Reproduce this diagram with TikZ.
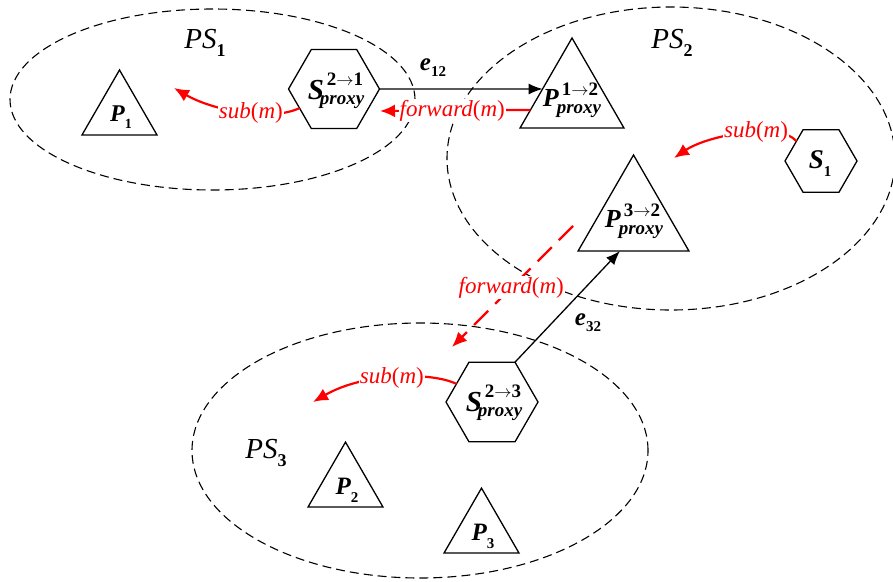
\documentclass[tikz,border=0pt]{standalone}
\usepackage{fontspec}
\setmainfont{Liberation Serif}
\usetikzlibrary{shapes.geometric,arrows.meta}

% bold italic symbol with a lowered bold index:
% #1 symbol size, #2 symbol, #3 index size, #4 index, #5 drop of the index
\newcommand{\symidx}[5]{{\fontsize{#1}{#1}\selectfont\bfseries\itshape #2}\raisebox{-#5}{\fontsize{#3}{#3}\selectfont\bfseries\upshape #4}}
% proxy symbol X^{a->b}_{proxy}:
% #1 symbol size, #2 symbol, #3 from, #4 to, #5 kern of the subscript, #6 raise, #7 drop
\newcommand{\symproxy}[7]{{\fontsize{#1}{#1}\selectfont\bfseries\itshape #2}\kern#5\rlap{\kern-#5\kern3pt\raisebox{#6}{\fontsize{19}{19}\selectfont\bfseries\upshape #3$\rightarrow$#4}}\raisebox{-#7}{\fontsize{19}{19}\selectfont\bfseries\itshape proxy}}
% region name PS_i
\newcommand{\psname}[1]{{\fontsize{29}{29}\selectfont\itshape PS}\raisebox{-8pt}{\fontsize{18}{18}\selectfont\bfseries #1}}
% message text
\newcommand{\msgname}[1]{#1{\upshape(}m{\upshape)}}

\tikzset{
  region/.style={ellipse, draw, line width=1.1pt, dash pattern=on 9pt off 5pt, inner sep=0pt, outer sep=0pt},
  tri/.style={regular polygon, regular polygon sides=3, draw, line width=1.3pt, inner sep=0pt, outer sep=0pt},
  hexa/.style={regular polygon, regular polygon sides=6, draw, line width=1.3pt, inner sep=0pt, outer sep=0pt},
  symtxt/.style={inner sep=0pt},
  link/.style={line width=1.3pt, -{Latex[length=14pt,width=11pt]}},
  msg/.style={red, line width=2.2pt, -{Latex[length=15pt,width=13pt]}},
  msgtxt/.style={fill=white, text=red, inner sep=1pt, font=\fontsize{23}{27}\selectfont\itshape},
}

\begin{document}
\begin{tikzpicture}[x=1pt,y=-1pt]
  \useasboundingbox (0,0) rectangle (893,581);

  % publish/subscribe regions
  \node[region, minimum width=405pt, minimum height=181pt] (ps1) at (212.5,99.5) {};
  \node[region, minimum width=448pt, minimum height=303pt] (ps2) at (671,158.5) {};
  \node[region, minimum width=456pt, minimum height=255pt] (ps3) at (420,450.5) {};

  \node[symtxt] (ps1lbl) at (205,43) {\psname{1}};
  \node[symtxt] (ps2lbl) at (672,43) {\psname{2}};
  \node[symtxt] (ps3lbl) at (266,453) {\psname{3}};

  % publishers (triangles) and subscribers (hexagons)
  \node[tri, minimum size=86.6pt] (P1) at (119.5,113.3) {};
  \node[symtxt] (P1t) at (121,117) {\symidx{24}{P}{14}{1}{7pt}};

  \node[hexa, minimum size=91pt] (S21) at (334,89) {};
  \node[symtxt] (S21t) at (336,91) {\symproxy{29}{S}{2}{1}{-4pt}{14pt}{5pt}};

  \node[tri, minimum size=120pt] (P12) at (572,98) {};
  \node[symtxt] (P12t) at (572,100) {\symproxy{26}{P}{1}{2}{-2pt}{11pt}{7pt}};

  \node[tri, minimum size=128pt] (P32) at (633.5,219) {};
  \node[symtxt] (P32t) at (634,221) {\symproxy{26}{P}{3}{2}{-2pt}{11pt}{7pt}};

  \node[hexa, minimum size=72pt] (S1) at (821,161) {};
  \node[symtxt] (S1t) at (820,164) {\symidx{27}{S}{15}{1}{8pt}};

  \node[hexa, minimum size=92pt] (S23) at (492,402) {};
  \node[symtxt] (S23t) at (494,403) {\symproxy{29}{S}{2}{3}{-4pt}{14pt}{5pt}};

  \node[tri, minimum size=86.6pt] (P2) at (345.5,485.4) {};
  \node[symtxt] (P2t) at (347,490) {\symidx{25}{P}{15}{2}{8pt}};

  \node[tri, minimum size=86.6pt] (P3) at (481.5,531.4) {};
  \node[symtxt] (P3t) at (483,536) {\symidx{25}{P}{15}{3}{8pt}};

  % links between regions
  \draw[link] (S21.east) -- (P12.163);
  \node[symtxt] (e12) at (433,68) {\symidx{25}{e}{15}{12}{6pt}};
  \draw[link] (S23.60) -- (P32.247);
  \node[symtxt] (e32) at (588,323) {\symidx{25}{e}{15}{32}{6pt}};

  % free ends of the message arrows
  \coordinate (fwdEnd) at (380,111);
  \coordinate (fwdTop) at (573,226);
  \coordinate (fwdLow) at (452,347);
  \coordinate (sub1End) at (174,88);
  \coordinate (sub2End) at (674,158);
  \coordinate (sub3End) at (313,402);

  % message flow
  \draw[msg] (P12.196) -- node[msgtxt, pos=0.52] (fwd1) {\msgname{forward}} (fwdEnd);
  \draw[msg, dash pattern=on 20pt off 10pt] (fwdTop) -- node[msgtxt, pos=0.51] (fwd2) {\msgname{forward}} (fwdLow);
  \draw[msg] (S21.209) .. controls (270,122) and (212,110) .. node[msgtxt, pos=0.42] (sub1) {\msgname{sub}} (sub1End);
  \draw[msg] (S1.141) .. controls (780,122) and (708,135) .. node[msgtxt, pos=0.4] (sub2) {\msgname{sub}} (sub2End);
  \draw[msg] (S23.153) .. controls (432,372) and (365,372) .. node[msgtxt, pos=0.52] (sub3) {\msgname{sub}} (sub3End);
\end{tikzpicture}
\end{document}
